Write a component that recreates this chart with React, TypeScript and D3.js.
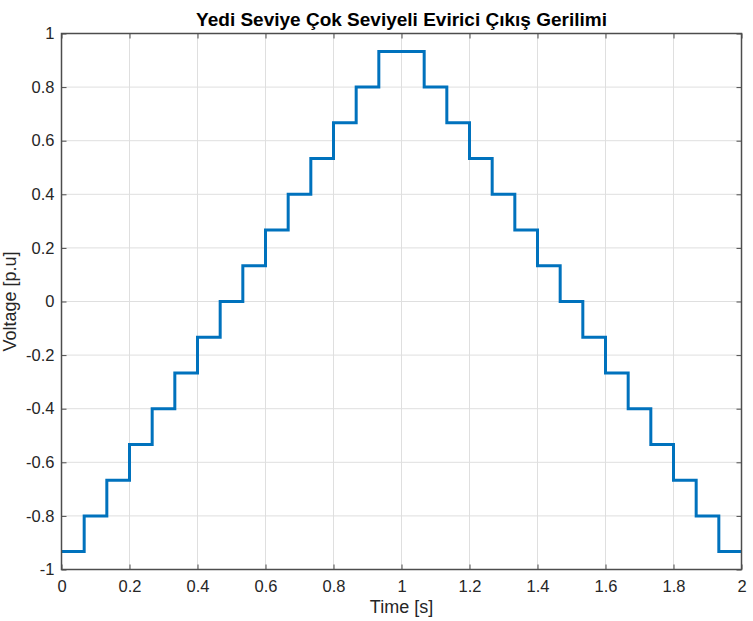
import * as d3 from "d3";
import React, { useEffect, useRef } from "react";

// step edges (s) and output level (p.u.) held on each step
const stepEdges = [
  0, 0.0667, 0.1333, 0.2, 0.2667, 0.3333, 0.4, 0.4667, 0.5333, 0.6, 0.6667,
  0.7333, 0.8, 0.8667, 0.9333, 1.0, 1.0667, 1.1333, 1.2, 1.2667, 1.3333, 1.4,
  1.4667, 1.5333, 1.6, 1.6667, 1.7333, 1.8, 1.8667, 1.9333, 2.0,
];
const stepLevels = [
  -0.9333, -0.8, -0.6667, -0.5333, -0.4, -0.2667, -0.1333, 0, 0.1333, 0.2667,
  0.4, 0.5333, 0.6667, 0.8, 0.9333, 0.9333, 0.8, 0.6667, 0.5333, 0.4, 0.2667,
  0.1333, 0, -0.1333, -0.2667, -0.4, -0.5333, -0.6667, -0.8, -0.9333,
];
const xTicks = [0, 0.2, 0.4, 0.6, 0.8, 1, 1.2, 1.4, 1.6, 1.8, 2];
const yTicks = [-1, -0.8, -0.6, -0.4, -0.2, 0, 0.2, 0.4, 0.6, 0.8, 1];

const W = 753;
const H = 621;
const margin = { top: 33.5, right: 11.5, bottom: 51.5, left: 61.5 };

export default function App() {
  const svgRef = useRef<SVGSVGElement>(null);

  useEffect(() => {
    const svg = d3.select(svgRef.current);
    svg.selectAll("*").remove();

    const iw = W - margin.left - margin.right;
    const ih = H - margin.top - margin.bottom;
    const x = d3.scaleLinear().domain([0, 2]).range([0, iw]);
    const y = d3.scaleLinear().domain([-1, 1]).range([ih, 0]);
    const font = "'Liberation Sans', Arial, Helvetica, sans-serif";
    const axisCol = "#4d4d4d";
    const tickFs = 16.5;

    const g = svg.append("g").attr("transform", `translate(${margin.left},${margin.top})`);

    // grid
    g.append("g")
      .selectAll("line")
      .data(xTicks)
      .join("line")
      .attr("x1", (d) => x(d))
      .attr("x2", (d) => x(d))
      .attr("y1", 0)
      .attr("y2", ih)
      .attr("stroke", "#dfdfdf")
      .attr("stroke-width", 1);
    g.append("g")
      .selectAll("line")
      .data(yTicks)
      .join("line")
      .attr("y1", (d) => y(d))
      .attr("y2", (d) => y(d))
      .attr("x1", 0)
      .attr("x2", iw)
      .attr("stroke", "#dfdfdf")
      .attr("stroke-width", 1);

    // step line
    const pts: [number, number][] = [];
    stepLevels.forEach((v, i) => {
      pts.push([stepEdges[i], v]);
      pts.push([stepEdges[i + 1], v]);
    });
    const line = d3
      .line<[number, number]>()
      .x((d) => x(d[0]))
      .y((d) => y(d[1]));
    g.append("path")
      .datum(pts)
      .attr("fill", "none")
      .attr("stroke", "#0072BD")
      .attr("stroke-width", 3)
      .attr("stroke-linejoin", "miter")
      .attr("d", line);

    // axes (MATLAB box style, ticks inside)
    const tl = 5;
    g.append("g")
      .attr("transform", `translate(0,${ih})`)
      .call(d3.axisBottom(x).tickValues(xTicks).tickSize(-tl).tickPadding(10.5).tickFormat((d) => String(d)))
      .call((a) => a.select(".domain").remove())
      .call((a) => a.selectAll("line").attr("stroke", axisCol))
      .call((a) =>
        a.selectAll("text").attr("fill", "#262626").attr("font-size", tickFs).attr("font-family", font)
      );
    g.append("g")
      .call(d3.axisTop(x).tickValues(xTicks).tickSize(-tl).tickFormat(() => ""))
      .call((a) => a.select(".domain").remove())
      .call((a) => a.selectAll("line").attr("stroke", axisCol));
    g.append("g")
      .call(d3.axisLeft(y).tickValues(yTicks).tickSize(-tl).tickPadding(7).tickFormat((d) => String(d)))
      .call((a) => a.select(".domain").remove())
      .call((a) => a.selectAll("line").attr("stroke", axisCol))
      .call((a) =>
        a.selectAll("text").attr("fill", "#262626").attr("font-size", tickFs).attr("font-family", font)
      );
    g.append("g")
      .attr("transform", `translate(${iw},0)`)
      .call(d3.axisRight(y).tickValues(yTicks).tickSize(-tl).tickFormat(() => ""))
      .call((a) => a.select(".domain").remove())
      .call((a) => a.selectAll("line").attr("stroke", axisCol));

    g.append("rect")
      .attr("width", iw)
      .attr("height", ih)
      .attr("fill", "none")
      .attr("stroke", axisCol)
      .attr("stroke-width", 1.5);

    // labels
    svg.append("text")
      .attr("x", margin.left + iw / 2)
      .attr("y", 26)
      .attr("text-anchor", "middle")
      .attr("font-family", font)
      .attr("font-weight", "bold")
      .attr("font-size", 19)
      .attr("fill", "#000")
      .text("Yedi Seviye Çok Seviyeli Evirici Çıkış Gerilimi");
    svg.append("text")
      .attr("x", margin.left + iw / 2)
      .attr("y", 613)
      .attr("text-anchor", "middle")
      .attr("font-family", font)
      .attr("font-size", 18)
      .attr("fill", "#262626")
      .text("Time [s]");
    svg.append("text")
      .attr("transform", `translate(16,${margin.top + ih / 2}) rotate(-90)`)
      .attr("text-anchor", "middle")
      .attr("font-family", font)
      .attr("font-size", 18)
      .attr("fill", "#262626")
      .text("Voltage [p.u]");
  }, []);

  return (
    <svg
      ref={svgRef}
      width={W}
      height={H}
      style={{ position: "absolute", left: 0, top: 0, background: "#fff" }}
    />
  );
}
